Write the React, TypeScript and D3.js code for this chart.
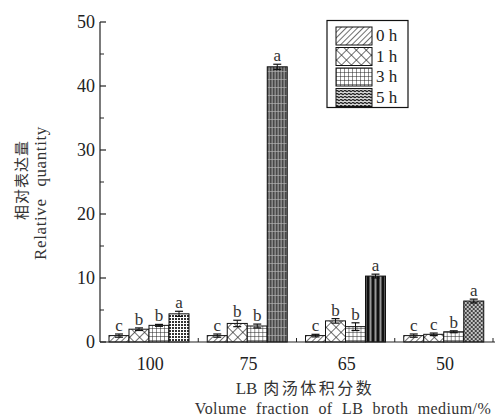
import React from "react";
import * as d3 from "d3";

const categories = ["100", "75", "65", "50"];
const series = ["0 h", "1 h", "3 h", "5 h"];
const values0h = [1.0, 1.0, 1.0, 1.0];
const values1h = [2.0, 2.9, 3.3, 1.2];
const values3h = [2.6, 2.5, 2.4, 1.6];
const values5h = [4.4, 43.0, 10.3, 6.4];
const err0h = [0.25, 0.25, 0.2, 0.25];
const err1h = [0.2, 0.5, 0.35, 0.2];
const err3h = [0.15, 0.3, 0.6, 0.15];
const err5h = [0.4, 0.4, 0.3, 0.3];
const letters0h = ["c", "c", "c", "c"];
const letters1h = ["b", "b", "b", "c"];
const letters3h = ["b", "b", "b", "b"];
const letters5h = ["a", "a", "a", "a"];
const yTicks = [0, 10, 20, 30, 40, 50];

const allValues = [values0h, values1h, values3h, values5h];
const allErr = [err0h, err1h, err3h, err5h];
const allLetters = [letters0h, letters1h, letters3h, letters5h];

const W = 496;
const H = 420;
const serif = "'Liberation Serif', 'Times New Roman', Times, serif";
const cjk = "'Noto Sans CJK SC', sans-serif";

export default function App() {
  const x = d3.scaleBand<string>().domain(categories).range([100, 493]).paddingInner(0).paddingOuter(0);
  const inner = d3.scaleBand<string>().domain(series).range([9, 89]).padding(0);
  const y = d3.scaleLinear().domain([0, 50]).range([342, 22]);
  const minor = d3.range(5, 50, 10);

  const patternFor = (si: number, ci: number) => {
    if (si === 0) return "url(#p0)";
    if (si === 1) return "url(#p1)";
    if (si === 2) return "url(#p3)";
    return ["url(#p5a)", "url(#p5b)", "url(#p5c)", "url(#p5d)"][ci];
  };

  return (
    <svg width={W} height={H} style={{ display: "block", position: "absolute", left: 0, top: 0, background: "#fff" }}>
      <defs>
        <pattern id="p0" width="4" height="4" patternUnits="userSpaceOnUse" patternTransform="rotate(45)">
          <rect width="4" height="4" fill="#fff" />
          <line x1="0" y1="0" x2="0" y2="4" stroke="#333" strokeWidth="1.4" />
        </pattern>
        <pattern id="p1" width="7" height="7" patternUnits="userSpaceOnUse" patternTransform="rotate(45)">
          <rect width="7" height="7" fill="#fff" />
          <line x1="0" y1="0" x2="7" y2="0" stroke="#222" strokeWidth="1.3" />
          <line x1="0" y1="0" x2="0" y2="7" stroke="#222" strokeWidth="1.3" />
        </pattern>
        <pattern id="p3" width="4" height="4" patternUnits="userSpaceOnUse">
          <rect width="4" height="4" fill="#fff" />
          <line x1="0" y1="0" x2="4" y2="0" stroke="#222" strokeWidth="1" />
          <line x1="0" y1="0" x2="0" y2="4" stroke="#222" strokeWidth="1" />
        </pattern>
        <pattern id="p5a" width="3" height="3" patternUnits="userSpaceOnUse">
          <rect width="3" height="3" fill="#fff" />
          <rect width="2" height="2" fill="#333" />
        </pattern>
        <pattern id="p5b" width="3" height="8" patternUnits="userSpaceOnUse">
          <rect width="3" height="8" fill="#888" />
          <line x1="0.5" y1="0" x2="0.5" y2="8" stroke="#333" strokeWidth="1.2" />
          <line x1="0" y1="7.5" x2="3" y2="7.5" stroke="#bbb" strokeWidth="0.6" />
        </pattern>
        <pattern id="p5c" width="5" height="5" patternUnits="userSpaceOnUse">
          <rect width="5" height="5" fill="#999" />
          <rect width="3" height="5" fill="#111" />
        </pattern>
        <pattern id="p5d" width="4" height="4" patternUnits="userSpaceOnUse">
          <rect width="4" height="4" fill="#444" />
          <circle cx="1" cy="1" r="0.9" fill="#fff" />
          <circle cx="3" cy="3" r="0.9" fill="#fff" />
        </pattern>
        <pattern id="p5l" width="4" height="3" patternUnits="userSpaceOnUse">
          <rect width="4" height="3" fill="#ddd" />
          <path d="M0,1 Q1,0 2,1 T4,1" fill="none" stroke="#222" strokeWidth="1.2" />
        </pattern>
      </defs>

      {/* bars */}
      {categories.map((c, ci) => (
        <g key={c} transform={`translate(${x(c)},0)`}>
          {series.map((s, si) => {
            const v = allValues[si][ci];
            const e = allErr[si][ci];
            const bx = inner(s)!;
            const bw = inner.bandwidth();
            const cx = bx + bw / 2;
            return (
              <g key={s}>
                <rect x={bx} y={y(v)} width={bw} height={y(0) - y(v)} fill={patternFor(si, ci)} stroke="#111" strokeWidth={1} />
                <line x1={cx} x2={cx} y1={y(v - e)} y2={y(v + e)} stroke="#111" strokeWidth={1} />
                <line x1={cx - 4} x2={cx + 4} y1={y(v + e)} y2={y(v + e)} stroke="#111" strokeWidth={1.2} />
                <line x1={cx - 4} x2={cx + 4} y1={y(v - e)} y2={y(v - e)} stroke="#111" strokeWidth={1.2} />
                <text x={cx} y={y(v + e) - 3} textAnchor="middle" fontFamily={serif} fontSize={17} fill="#333">
                  {allLetters[si][ci]}
                </text>
              </g>
            );
          })}
        </g>
      ))}

      {/* axes */}
      <line x1={100} x2={100} y1={y(50)} y2={y(0)} stroke="#222" strokeWidth={1.2} />
      <line x1={100} x2={495} y1={y(0)} y2={y(0)} stroke="#222" strokeWidth={1.2} />
      {yTicks.map((t) => (
        <g key={t}>
          <line x1={100} x2={106} y1={y(t)} y2={y(t)} stroke="#222" strokeWidth={1.2} />
          <text x={95} y={y(t) + 6} textAnchor="end" fontFamily={serif} fontSize={18} fill="#222">
            {t}
          </text>
        </g>
      ))}
      {minor.map((t) => (
        <line key={t} x1={100} x2={104} y1={y(t)} y2={y(t)} stroke="#222" strokeWidth={1} />
      ))}
      {categories.map((c, ci) => (
        <g key={c}>
          {ci > 0 && <line x1={x(c)} x2={x(c)} y1={y(0)} y2={y(0) - 4} stroke="#222" strokeWidth={1} />}
          <text x={x(c)! + x.bandwidth() / 2 + 1} y={370} textAnchor="middle" fontFamily={serif} fontSize={18} fill="#222">
            {c}
          </text>
        </g>
      ))}
      <line x1={493} x2={493} y1={y(0)} y2={y(0) - 4} stroke="#222" strokeWidth={1} />

      {/* axis titles */}
      <text transform="translate(27,180) rotate(-90)" textAnchor="middle" fontFamily={cjk} fontSize={15} fill="#333" letterSpacing={1}>
        相对表达量
      </text>
      <text transform="translate(46,193) rotate(-90)" textAnchor="middle" fontFamily={serif} fontSize={17} fill="#333" letterSpacing={0.6} wordSpacing={7}>
        Relative quantity
      </text>
      <text x={305} y={394} textAnchor="middle" fontFamily={cjk} fontSize={16} fill="#333">
        <tspan fontFamily={serif} fontSize={17}>LB</tspan>
        <tspan dx={6} letterSpacing={2.5}>肉汤体积分数</tspan>
      </text>
      <text x={343} y={414} textAnchor="middle" fontFamily={serif} fontSize={16} fill="#333" letterSpacing={0.4} wordSpacing={5}>
        Volume fraction of LB broth medium/%
      </text>

      {/* legend */}
      <rect x={327} y={20.5} width={81} height={87} fill="#fff" stroke="#111" strokeWidth={1.2} />
      {series.map((s, si) => {
        const ly = 27 + si * 20.5;
        const fill = si === 3 ? "url(#p5l)" : patternFor(si, 0);
        return (
          <g key={s}>
            <rect x={336} y={ly} width={36} height={18} fill={fill} stroke="#111" strokeWidth={1} />
            <text x={376} y={ly + 14} fontFamily={serif} fontSize={17} fill="#222">
              {s}
            </text>
          </g>
        );
      })}
    </svg>
  );
}
